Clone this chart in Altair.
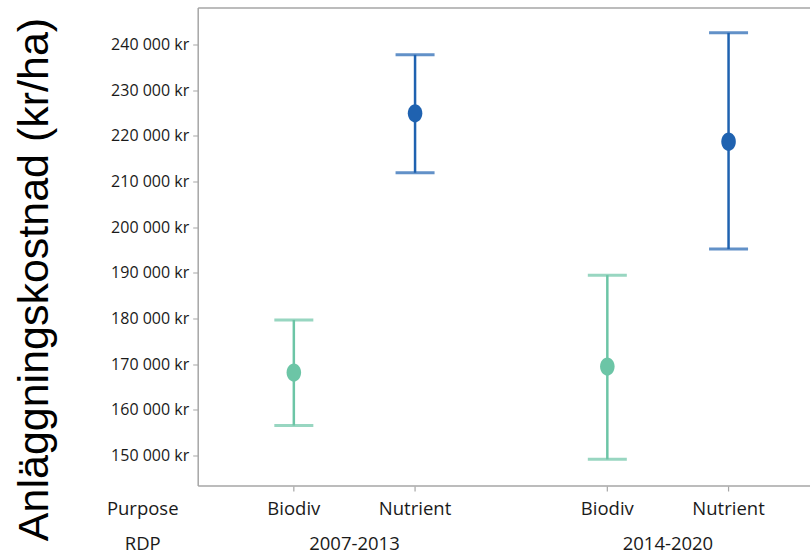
import altair as alt
import pandas as pd

# ---- data ----
rdp = ["2007-2013", "2007-2013", "2014-2020", "2014-2020"]
purpose = ["Biodiv", "Nutrient", "Biodiv", "Nutrient"]
mean = [168200, 224900, 169500, 218700]
lower = [156600, 211900, 149200, 195200]
upper = [179700, 237700, 189500, 242500]

y_ticks = [150000, 160000, 170000, 180000, 190000, 200000, 210000, 220000, 230000, 240000]
y_title = "Anläggningskostnad (kr/ha)"
row_headers = ["Purpose", "RDP"]

df = pd.DataFrame({"RDP": rdp, "Purpose": purpose, "mean": mean, "lower": lower, "upper": upper})

W, H = 612, 478
LABEL_FONT = "Open Sans, sans-serif"
GRAY = "#a6a6a6"

x_scale = alt.Scale(range=[0, 627], paddingInner=0, paddingOuter=0)
xo_scale = alt.Scale(paddingInner=0, paddingOuter=0.293)
y_scale = alt.Scale(domain=[143480, 248050], nice=False, zero=False)
bar_colors = alt.Scale(domain=["Biodiv", "Nutrient"], range=["#6cc5a6", "#1f62b0"])
pt_colors = alt.Scale(domain=["Biodiv", "Nutrient"], range=["#5dba99", "#0a50a5"])

x_bottom = alt.X("RDP:N", scale=x_scale, sort=None,
                 axis=alt.Axis(title=None, ticks=False, tickSize=0, labelPadding=58,
                               labelBaseline="middle", labelAngle=0,
                               labelFont=LABEL_FONT, labelFontSize=18.5, labelColor="#1a1a1a",
                               domainColor=GRAY, domainWidth=1.5))
x_top = alt.X("RDP:N", scale=x_scale, sort=None,
              axis=alt.Axis(orient="top", title=None, labels=False, ticks=False,
                            domainColor=GRAY, domainWidth=1.5))
x_none = alt.X("RDP:N", scale=x_scale, sort=None, axis=None)
xo = alt.XOffset("Purpose:N", scale=xo_scale, sort=None)

y_axis = alt.Axis(values=y_ticks, title=y_title, grid=False,
                  labelExpr="replace(format(datum.value, ',d'), ',', ' ') + ' kr'",
                  labelFont=LABEL_FONT, labelFontSize=16, labelColor="#1a1a1a", labelPadding=4,
                  tickColor=GRAY, tickSize=5, domainColor=GRAY, domainWidth=1.5,
                  titleFont="Liberation Sans, Arial, sans-serif", titleFontSize=43,
                  titleFontWeight="normal", titleColor="#000000",
                  titleAngle=270, titleAlign="center", titleBaseline="alphabetic",
                  titleX=-150, titleY=271.5)

base = alt.Chart(df)

whisker = base.mark_rule(strokeWidth=2.5).encode(
    x=x_bottom, xOffset=xo,
    y=alt.Y("lower:Q", scale=y_scale, axis=y_axis),
    y2="upper:Q",
    color=alt.Color("Purpose:N", scale=bar_colors, legend=None),
)
cap_hi = base.mark_tick(size=39, thickness=3, orient="horizontal").encode(
    x=x_top, xOffset=xo, y=alt.Y("upper:Q", scale=y_scale),
    color=alt.Color("Purpose:N", scale=bar_colors, legend=None),
)
cap_lo = base.mark_tick(size=39, thickness=3, orient="horizontal").encode(
    x=x_none, xOffset=xo, y=alt.Y("lower:Q", scale=y_scale),
    color=alt.Color("Purpose:N", scale=bar_colors, legend=None),
)
ellipse = ("M 0 -1 C 0.4418 -1 0.8 -0.5523 0.8 0 C 0.8 0.5523 0.4418 1 0 1 "
           "C -0.4418 1 -0.8 0.5523 -0.8 0 C -0.8 -0.5523 -0.4418 -1 0 -1 Z")
points = base.mark_point(shape=ellipse, filled=True, size=330, opacity=1).encode(
    x=x_none, xOffset=xo, y=alt.Y("mean:Q", scale=y_scale),
    color=alt.Color("Purpose:N", scale=pt_colors, legend=None),
)
purpose_labels = base.mark_text(font=LABEL_FONT, fontSize=18.5, color="#1a1a1a",
                                baseline="middle", clip=False).encode(
    x=x_none, xOffset=xo, y=alt.value(H + 23.5), text="Purpose:N",
)
purpose_ticks = base.mark_rule(color=GRAY, strokeWidth=1.2).encode(
    x=x_none, xOffset=xo, y=alt.value(H + 1), y2=alt.value(H + 6),
)
headers = alt.Chart(pd.DataFrame({"h": row_headers, "dy": [23.5, 58.5]})).mark_text(
    font=LABEL_FONT, fontSize=18.5, color="#1a1a1a", baseline="middle", align="center"
).encode(
    x=alt.value(-55),
    y=alt.Y("dy:Q", scale=alt.Scale(domain=[0, H], range=[H, 2 * H]), axis=None),
    text="h:N",
)

chart = alt.layer(whisker, cap_hi, cap_lo, points, purpose_labels, purpose_ticks).resolve_axis(
    x="independent"
)
chart = alt.layer(chart, headers).resolve_scale(y="independent").properties(
    width=W, height=H,
    autosize=alt.AutoSizeParams(type="none"),
    padding={"left": 197.7, "top": 7.5, "right": 0, "bottom": 69.5},
).configure_view(stroke=None)

chart.save("out.html", embed_options={"renderer": "svg", "actions": False})
